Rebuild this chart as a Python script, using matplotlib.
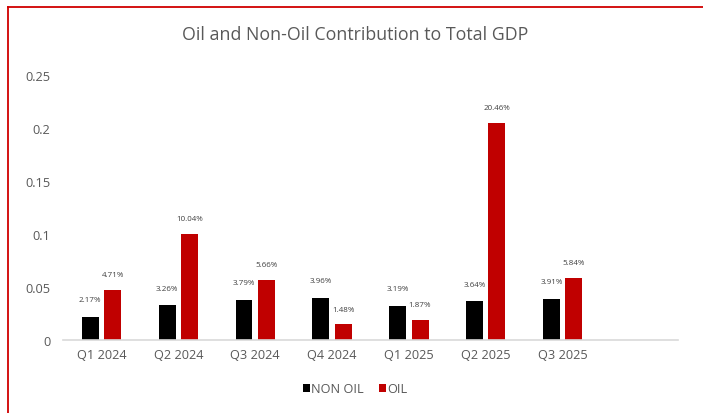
import matplotlib.pyplot as plt
import numpy as np
from matplotlib.lines import Line2D

# datos
quarters = ["Q1 2024", "Q2 2024", "Q3 2024", "Q4 2024", "Q1 2025", "Q2 2025", "Q3 2025", ""]
non_oil = [0.0217, 0.0326, 0.0379, 0.0396, 0.0319, 0.0364, 0.0391]
oil = [0.0471, 0.1004, 0.0566, 0.0148, 0.0187, 0.2046, 0.0584]
non_oil_labels = ["2.17%", "3.26%", "3.79%", "3.96%", "3.19%", "3.64%", "3.91%"]
oil_labels = ["4.71%", "10.04%", "5.66%", "1.48%", "1.87%", "20.46%", "5.84%"]
yticks = [0, 0.05, 0.1, 0.15, 0.2, 0.25]
ytick_labels = ["0", "0.05", "0.1", "0.15", "0.2", "0.25"]

plt.rcParams['font.family'] = ['Open Sans', 'DejaVu Sans']
gris = "#595959"

fig = plt.figure(figsize=(7.03, 4.14), dpi=100)
ax = fig.add_axes([0.0896, 0.1763, 0.8748, 0.6401])

x = np.arange(len(non_oil))
w = 0.22
ax.bar(x - 0.145, non_oil, w, color="black", label="NON OIL")
ax.bar(x + 0.145, oil, w, color="#c00000", label="OIL")

#etiquetas arriba de las barras
for i in range(len(x)):
    ax.annotate(non_oil_labels[i], (x[i] - 0.145, non_oil[i]), xytext=(0, 12.5),
                textcoords="offset points", ha="center", va="center", fontsize=5.8, color="#404040")
    ax.annotate(oil_labels[i], (x[i] + 0.145, oil[i]), xytext=(0, 11),
                textcoords="offset points", ha="center", va="center", fontsize=5.8, color="#404040")

ax.set_xlim(-0.5, len(quarters) - 0.5)
ax.set_xticks(np.arange(len(quarters)))
ax.set_xticklabels(quarters, fontsize=9.2, color=gris)
ax.set_ylim(0, 0.25)
ax.set_yticks(yticks)
ax.set_yticklabels(ytick_labels, fontsize=9.2, color=gris)
ax.tick_params(length=0, pad=6)
ax.tick_params(axis="y", pad=9)
for s in ["top", "right", "left"]:
    ax.spines[s].set_visible(False)
ax.spines["bottom"].set_color("#d9d9d9")
ax.spines["bottom"].set_linewidth(1.2)

fig.text(0.505, 0.915, "Oil and Non-Oil Contribution to Total GDP", ha="center", va="center",
         fontsize=12.8, color=gris)

fig.legend(loc="center", bbox_to_anchor=(0.505, 0.058), ncol=2, frameon=False, fontsize=9.2,
           handlelength=0.55, handleheight=0.55, handletextpad=0.1, columnspacing=1.2,
           labelcolor=gris)

# borde rojo arriba y a la izquierda
fig.add_artist(Line2D([8 / 703, 1], [1 - 8 / 414, 1 - 8 / 414], color="#d00000", lw=1.3))
fig.add_artist(Line2D([8 / 703, 8 / 703], [0, 1 - 8 / 414], color="#d00000", lw=1.3))

fig.savefig("out.png", dpi=100)
